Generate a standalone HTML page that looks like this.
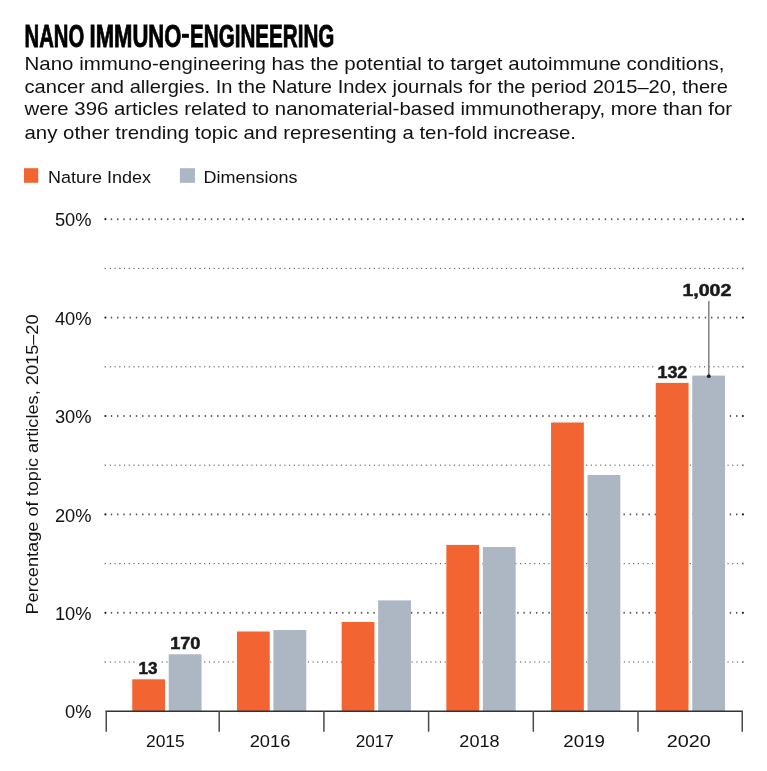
<!DOCTYPE html>
<html><head><meta charset="utf-8"><style>
html,body{margin:0;padding:0;background:#fff;width:767px;height:771px;overflow:hidden;}
svg{display:block;will-change:transform;}
text{font-family:"Liberation Sans", sans-serif;}
</style></head><body>
<svg width="767" height="771" viewBox="0 0 767 771" font-family='"Liberation Sans", sans-serif'><g fill="#505050"><circle cx="105.2" cy="662.00" r="0.9" fill="#999"/><rect x="109.85" y="661.45" width="1.1" height="1.1"/><rect x="114.57" y="661.45" width="1.1" height="1.1"/><rect x="119.28" y="661.45" width="1.1" height="1.1"/><rect x="124.00" y="661.45" width="1.1" height="1.1"/><rect x="128.71" y="661.45" width="1.1" height="1.1"/><rect x="133.42" y="661.45" width="1.1" height="1.1"/><rect x="138.14" y="661.45" width="1.1" height="1.1"/><rect x="142.85" y="661.45" width="1.1" height="1.1"/><rect x="147.57" y="661.45" width="1.1" height="1.1"/><rect x="152.28" y="661.45" width="1.1" height="1.1"/><rect x="157.00" y="661.45" width="1.1" height="1.1"/><rect x="161.71" y="661.45" width="1.1" height="1.1"/><rect x="166.43" y="661.45" width="1.1" height="1.1"/><rect x="171.14" y="661.45" width="1.1" height="1.1"/><rect x="175.86" y="661.45" width="1.1" height="1.1"/><rect x="180.57" y="661.45" width="1.1" height="1.1"/><rect x="185.29" y="661.45" width="1.1" height="1.1"/><rect x="190.00" y="661.45" width="1.1" height="1.1"/><rect x="194.72" y="661.45" width="1.1" height="1.1"/><rect x="199.44" y="661.45" width="1.1" height="1.1"/><rect x="204.15" y="661.45" width="1.1" height="1.1"/><rect x="208.87" y="661.45" width="1.1" height="1.1"/><rect x="213.58" y="661.45" width="1.1" height="1.1"/><rect x="218.29" y="661.45" width="1.1" height="1.1"/><rect x="223.01" y="661.45" width="1.1" height="1.1"/><rect x="227.72" y="661.45" width="1.1" height="1.1"/><rect x="232.44" y="661.45" width="1.1" height="1.1"/><rect x="237.15" y="661.45" width="1.1" height="1.1"/><rect x="241.87" y="661.45" width="1.1" height="1.1"/><rect x="246.58" y="661.45" width="1.1" height="1.1"/><rect x="251.30" y="661.45" width="1.1" height="1.1"/><rect x="256.01" y="661.45" width="1.1" height="1.1"/><rect x="260.73" y="661.45" width="1.1" height="1.1"/><rect x="265.44" y="661.45" width="1.1" height="1.1"/><rect x="270.16" y="661.45" width="1.1" height="1.1"/><rect x="274.88" y="661.45" width="1.1" height="1.1"/><rect x="279.59" y="661.45" width="1.1" height="1.1"/><rect x="284.31" y="661.45" width="1.1" height="1.1"/><rect x="289.02" y="661.45" width="1.1" height="1.1"/><rect x="293.73" y="661.45" width="1.1" height="1.1"/><rect x="298.45" y="661.45" width="1.1" height="1.1"/><rect x="303.17" y="661.45" width="1.1" height="1.1"/><rect x="307.88" y="661.45" width="1.1" height="1.1"/><rect x="312.59" y="661.45" width="1.1" height="1.1"/><rect x="317.31" y="661.45" width="1.1" height="1.1"/><rect x="322.02" y="661.45" width="1.1" height="1.1"/><rect x="326.74" y="661.45" width="1.1" height="1.1"/><rect x="331.45" y="661.45" width="1.1" height="1.1"/><rect x="336.17" y="661.45" width="1.1" height="1.1"/><rect x="340.88" y="661.45" width="1.1" height="1.1"/><rect x="345.60" y="661.45" width="1.1" height="1.1"/><rect x="350.31" y="661.45" width="1.1" height="1.1"/><rect x="355.03" y="661.45" width="1.1" height="1.1"/><rect x="359.74" y="661.45" width="1.1" height="1.1"/><rect x="364.46" y="661.45" width="1.1" height="1.1"/><rect x="369.18" y="661.45" width="1.1" height="1.1"/><rect x="373.89" y="661.45" width="1.1" height="1.1"/><rect x="378.60" y="661.45" width="1.1" height="1.1"/><rect x="383.32" y="661.45" width="1.1" height="1.1"/><rect x="388.04" y="661.45" width="1.1" height="1.1"/><rect x="392.75" y="661.45" width="1.1" height="1.1"/><rect x="397.46" y="661.45" width="1.1" height="1.1"/><rect x="402.18" y="661.45" width="1.1" height="1.1"/><rect x="406.90" y="661.45" width="1.1" height="1.1"/><rect x="411.61" y="661.45" width="1.1" height="1.1"/><rect x="416.32" y="661.45" width="1.1" height="1.1"/><rect x="421.04" y="661.45" width="1.1" height="1.1"/><rect x="425.75" y="661.45" width="1.1" height="1.1"/><rect x="430.47" y="661.45" width="1.1" height="1.1"/><rect x="435.19" y="661.45" width="1.1" height="1.1"/><rect x="439.90" y="661.45" width="1.1" height="1.1"/><rect x="444.61" y="661.45" width="1.1" height="1.1"/><rect x="449.33" y="661.45" width="1.1" height="1.1"/><rect x="454.05" y="661.45" width="1.1" height="1.1"/><rect x="458.76" y="661.45" width="1.1" height="1.1"/><rect x="463.47" y="661.45" width="1.1" height="1.1"/><rect x="468.19" y="661.45" width="1.1" height="1.1"/><rect x="472.91" y="661.45" width="1.1" height="1.1"/><rect x="477.62" y="661.45" width="1.1" height="1.1"/><rect x="482.33" y="661.45" width="1.1" height="1.1"/><rect x="487.05" y="661.45" width="1.1" height="1.1"/><rect x="491.76" y="661.45" width="1.1" height="1.1"/><rect x="496.48" y="661.45" width="1.1" height="1.1"/><rect x="501.19" y="661.45" width="1.1" height="1.1"/><rect x="505.91" y="661.45" width="1.1" height="1.1"/><rect x="510.62" y="661.45" width="1.1" height="1.1"/><rect x="515.34" y="661.45" width="1.1" height="1.1"/><rect x="520.06" y="661.45" width="1.1" height="1.1"/><rect x="524.77" y="661.45" width="1.1" height="1.1"/><rect x="529.49" y="661.45" width="1.1" height="1.1"/><rect x="534.20" y="661.45" width="1.1" height="1.1"/><rect x="538.92" y="661.45" width="1.1" height="1.1"/><rect x="543.63" y="661.45" width="1.1" height="1.1"/><rect x="548.35" y="661.45" width="1.1" height="1.1"/><rect x="553.06" y="661.45" width="1.1" height="1.1"/><rect x="557.78" y="661.45" width="1.1" height="1.1"/><rect x="562.49" y="661.45" width="1.1" height="1.1"/><rect x="567.21" y="661.45" width="1.1" height="1.1"/><rect x="571.92" y="661.45" width="1.1" height="1.1"/><rect x="576.63" y="661.45" width="1.1" height="1.1"/><rect x="581.35" y="661.45" width="1.1" height="1.1"/><rect x="586.07" y="661.45" width="1.1" height="1.1"/><rect x="590.78" y="661.45" width="1.1" height="1.1"/><rect x="595.50" y="661.45" width="1.1" height="1.1"/><rect x="600.21" y="661.45" width="1.1" height="1.1"/><rect x="604.93" y="661.45" width="1.1" height="1.1"/><rect x="609.64" y="661.45" width="1.1" height="1.1"/><rect x="614.36" y="661.45" width="1.1" height="1.1"/><rect x="619.07" y="661.45" width="1.1" height="1.1"/><rect x="623.78" y="661.45" width="1.1" height="1.1"/><rect x="628.50" y="661.45" width="1.1" height="1.1"/><rect x="633.22" y="661.45" width="1.1" height="1.1"/><rect x="637.93" y="661.45" width="1.1" height="1.1"/><rect x="642.64" y="661.45" width="1.1" height="1.1"/><rect x="647.36" y="661.45" width="1.1" height="1.1"/><rect x="652.08" y="661.45" width="1.1" height="1.1"/><rect x="656.79" y="661.45" width="1.1" height="1.1"/><rect x="661.50" y="661.45" width="1.1" height="1.1"/><rect x="666.22" y="661.45" width="1.1" height="1.1"/><rect x="670.94" y="661.45" width="1.1" height="1.1"/><rect x="675.65" y="661.45" width="1.1" height="1.1"/><rect x="680.37" y="661.45" width="1.1" height="1.1"/><rect x="685.08" y="661.45" width="1.1" height="1.1"/><rect x="689.79" y="661.45" width="1.1" height="1.1"/><rect x="694.51" y="661.45" width="1.1" height="1.1"/><rect x="699.23" y="661.45" width="1.1" height="1.1"/><rect x="703.94" y="661.45" width="1.1" height="1.1"/><rect x="708.65" y="661.45" width="1.1" height="1.1"/><rect x="713.37" y="661.45" width="1.1" height="1.1"/><rect x="718.09" y="661.45" width="1.1" height="1.1"/><rect x="722.80" y="661.45" width="1.1" height="1.1"/><rect x="727.51" y="661.45" width="1.1" height="1.1"/><rect x="732.23" y="661.45" width="1.1" height="1.1"/><rect x="736.95" y="661.45" width="1.1" height="1.1"/><circle cx="742.8" cy="662.00" r="1.0" fill="#777"/></g>
<g fill="#525252"><circle cx="105.4" cy="612.80" r="1.1" fill="#222"/><rect x="110.80" y="611.90" width="1.4" height="1.8"/><rect x="117.05" y="611.90" width="1.4" height="1.8"/><rect x="123.30" y="611.90" width="1.4" height="1.8"/><rect x="129.56" y="611.90" width="1.4" height="1.8"/><rect x="135.81" y="611.90" width="1.4" height="1.8"/><rect x="142.06" y="611.90" width="1.4" height="1.8"/><rect x="148.31" y="611.90" width="1.4" height="1.8"/><rect x="154.56" y="611.90" width="1.4" height="1.8"/><rect x="160.82" y="611.90" width="1.4" height="1.8"/><rect x="167.07" y="611.90" width="1.4" height="1.8"/><rect x="173.32" y="611.90" width="1.4" height="1.8"/><rect x="179.57" y="611.90" width="1.4" height="1.8"/><rect x="185.82" y="611.90" width="1.4" height="1.8"/><rect x="192.08" y="611.90" width="1.4" height="1.8"/><rect x="198.33" y="611.90" width="1.4" height="1.8"/><rect x="204.58" y="611.90" width="1.4" height="1.8"/><rect x="210.83" y="611.90" width="1.4" height="1.8"/><rect x="217.08" y="611.90" width="1.4" height="1.8"/><rect x="223.34" y="611.90" width="1.4" height="1.8"/><rect x="229.59" y="611.90" width="1.4" height="1.8"/><rect x="235.84" y="611.90" width="1.4" height="1.8"/><rect x="242.09" y="611.90" width="1.4" height="1.8"/><rect x="248.34" y="611.90" width="1.4" height="1.8"/><rect x="254.60" y="611.90" width="1.4" height="1.8"/><rect x="260.85" y="611.90" width="1.4" height="1.8"/><rect x="267.10" y="611.90" width="1.4" height="1.8"/><rect x="273.35" y="611.90" width="1.4" height="1.8"/><rect x="279.60" y="611.90" width="1.4" height="1.8"/><rect x="285.86" y="611.90" width="1.4" height="1.8"/><rect x="292.11" y="611.90" width="1.4" height="1.8"/><rect x="298.36" y="611.90" width="1.4" height="1.8"/><rect x="304.61" y="611.90" width="1.4" height="1.8"/><rect x="310.86" y="611.90" width="1.4" height="1.8"/><rect x="317.12" y="611.90" width="1.4" height="1.8"/><rect x="323.37" y="611.90" width="1.4" height="1.8"/><rect x="329.62" y="611.90" width="1.4" height="1.8"/><rect x="335.87" y="611.90" width="1.4" height="1.8"/><rect x="342.12" y="611.90" width="1.4" height="1.8"/><rect x="348.38" y="611.90" width="1.4" height="1.8"/><rect x="354.63" y="611.90" width="1.4" height="1.8"/><rect x="360.88" y="611.90" width="1.4" height="1.8"/><rect x="367.13" y="611.90" width="1.4" height="1.8"/><rect x="373.38" y="611.90" width="1.4" height="1.8"/><rect x="379.64" y="611.90" width="1.4" height="1.8"/><rect x="385.89" y="611.90" width="1.4" height="1.8"/><rect x="392.14" y="611.90" width="1.4" height="1.8"/><rect x="398.39" y="611.90" width="1.4" height="1.8"/><rect x="404.64" y="611.90" width="1.4" height="1.8"/><rect x="410.90" y="611.90" width="1.4" height="1.8"/><rect x="417.15" y="611.90" width="1.4" height="1.8"/><rect x="423.40" y="611.90" width="1.4" height="1.8"/><rect x="429.65" y="611.90" width="1.4" height="1.8"/><rect x="435.90" y="611.90" width="1.4" height="1.8"/><rect x="442.16" y="611.90" width="1.4" height="1.8"/><rect x="448.41" y="611.90" width="1.4" height="1.8"/><rect x="454.66" y="611.90" width="1.4" height="1.8"/><rect x="460.91" y="611.90" width="1.4" height="1.8"/><rect x="467.16" y="611.90" width="1.4" height="1.8"/><rect x="473.42" y="611.90" width="1.4" height="1.8"/><rect x="479.67" y="611.90" width="1.4" height="1.8"/><rect x="485.92" y="611.90" width="1.4" height="1.8"/><rect x="492.17" y="611.90" width="1.4" height="1.8"/><rect x="498.42" y="611.90" width="1.4" height="1.8"/><rect x="504.68" y="611.90" width="1.4" height="1.8"/><rect x="510.93" y="611.90" width="1.4" height="1.8"/><rect x="517.18" y="611.90" width="1.4" height="1.8"/><rect x="523.43" y="611.90" width="1.4" height="1.8"/><rect x="529.68" y="611.90" width="1.4" height="1.8"/><rect x="535.94" y="611.90" width="1.4" height="1.8"/><rect x="542.19" y="611.90" width="1.4" height="1.8"/><rect x="548.44" y="611.90" width="1.4" height="1.8"/><rect x="554.69" y="611.90" width="1.4" height="1.8"/><rect x="560.94" y="611.90" width="1.4" height="1.8"/><rect x="567.20" y="611.90" width="1.4" height="1.8"/><rect x="573.45" y="611.90" width="1.4" height="1.8"/><rect x="579.70" y="611.90" width="1.4" height="1.8"/><rect x="585.95" y="611.90" width="1.4" height="1.8"/><rect x="592.20" y="611.90" width="1.4" height="1.8"/><rect x="598.46" y="611.90" width="1.4" height="1.8"/><rect x="604.71" y="611.90" width="1.4" height="1.8"/><rect x="610.96" y="611.90" width="1.4" height="1.8"/><rect x="617.21" y="611.90" width="1.4" height="1.8"/><rect x="623.46" y="611.90" width="1.4" height="1.8"/><rect x="629.72" y="611.90" width="1.4" height="1.8"/><rect x="635.97" y="611.90" width="1.4" height="1.8"/><rect x="642.22" y="611.90" width="1.4" height="1.8"/><rect x="648.47" y="611.90" width="1.4" height="1.8"/><rect x="654.72" y="611.90" width="1.4" height="1.8"/><rect x="660.98" y="611.90" width="1.4" height="1.8"/><rect x="667.23" y="611.90" width="1.4" height="1.8"/><rect x="673.48" y="611.90" width="1.4" height="1.8"/><rect x="679.73" y="611.90" width="1.4" height="1.8"/><rect x="685.98" y="611.90" width="1.4" height="1.8"/><rect x="692.24" y="611.90" width="1.4" height="1.8"/><rect x="698.49" y="611.90" width="1.4" height="1.8"/><rect x="704.74" y="611.90" width="1.4" height="1.8"/><rect x="710.99" y="611.90" width="1.4" height="1.8"/><rect x="717.24" y="611.90" width="1.4" height="1.8"/><rect x="723.50" y="611.90" width="1.4" height="1.8"/><rect x="729.75" y="611.90" width="1.4" height="1.8"/><rect x="736.00" y="611.90" width="1.4" height="1.8"/><circle cx="742.9" cy="612.80" r="1.1" fill="#222"/></g>
<g fill="#505050"><circle cx="105.2" cy="563.60" r="0.9" fill="#999"/><rect x="109.85" y="563.05" width="1.1" height="1.1"/><rect x="114.57" y="563.05" width="1.1" height="1.1"/><rect x="119.28" y="563.05" width="1.1" height="1.1"/><rect x="124.00" y="563.05" width="1.1" height="1.1"/><rect x="128.71" y="563.05" width="1.1" height="1.1"/><rect x="133.42" y="563.05" width="1.1" height="1.1"/><rect x="138.14" y="563.05" width="1.1" height="1.1"/><rect x="142.85" y="563.05" width="1.1" height="1.1"/><rect x="147.57" y="563.05" width="1.1" height="1.1"/><rect x="152.28" y="563.05" width="1.1" height="1.1"/><rect x="157.00" y="563.05" width="1.1" height="1.1"/><rect x="161.71" y="563.05" width="1.1" height="1.1"/><rect x="166.43" y="563.05" width="1.1" height="1.1"/><rect x="171.14" y="563.05" width="1.1" height="1.1"/><rect x="175.86" y="563.05" width="1.1" height="1.1"/><rect x="180.57" y="563.05" width="1.1" height="1.1"/><rect x="185.29" y="563.05" width="1.1" height="1.1"/><rect x="190.00" y="563.05" width="1.1" height="1.1"/><rect x="194.72" y="563.05" width="1.1" height="1.1"/><rect x="199.44" y="563.05" width="1.1" height="1.1"/><rect x="204.15" y="563.05" width="1.1" height="1.1"/><rect x="208.87" y="563.05" width="1.1" height="1.1"/><rect x="213.58" y="563.05" width="1.1" height="1.1"/><rect x="218.29" y="563.05" width="1.1" height="1.1"/><rect x="223.01" y="563.05" width="1.1" height="1.1"/><rect x="227.72" y="563.05" width="1.1" height="1.1"/><rect x="232.44" y="563.05" width="1.1" height="1.1"/><rect x="237.15" y="563.05" width="1.1" height="1.1"/><rect x="241.87" y="563.05" width="1.1" height="1.1"/><rect x="246.58" y="563.05" width="1.1" height="1.1"/><rect x="251.30" y="563.05" width="1.1" height="1.1"/><rect x="256.01" y="563.05" width="1.1" height="1.1"/><rect x="260.73" y="563.05" width="1.1" height="1.1"/><rect x="265.44" y="563.05" width="1.1" height="1.1"/><rect x="270.16" y="563.05" width="1.1" height="1.1"/><rect x="274.88" y="563.05" width="1.1" height="1.1"/><rect x="279.59" y="563.05" width="1.1" height="1.1"/><rect x="284.31" y="563.05" width="1.1" height="1.1"/><rect x="289.02" y="563.05" width="1.1" height="1.1"/><rect x="293.73" y="563.05" width="1.1" height="1.1"/><rect x="298.45" y="563.05" width="1.1" height="1.1"/><rect x="303.17" y="563.05" width="1.1" height="1.1"/><rect x="307.88" y="563.05" width="1.1" height="1.1"/><rect x="312.59" y="563.05" width="1.1" height="1.1"/><rect x="317.31" y="563.05" width="1.1" height="1.1"/><rect x="322.02" y="563.05" width="1.1" height="1.1"/><rect x="326.74" y="563.05" width="1.1" height="1.1"/><rect x="331.45" y="563.05" width="1.1" height="1.1"/><rect x="336.17" y="563.05" width="1.1" height="1.1"/><rect x="340.88" y="563.05" width="1.1" height="1.1"/><rect x="345.60" y="563.05" width="1.1" height="1.1"/><rect x="350.31" y="563.05" width="1.1" height="1.1"/><rect x="355.03" y="563.05" width="1.1" height="1.1"/><rect x="359.74" y="563.05" width="1.1" height="1.1"/><rect x="364.46" y="563.05" width="1.1" height="1.1"/><rect x="369.18" y="563.05" width="1.1" height="1.1"/><rect x="373.89" y="563.05" width="1.1" height="1.1"/><rect x="378.60" y="563.05" width="1.1" height="1.1"/><rect x="383.32" y="563.05" width="1.1" height="1.1"/><rect x="388.04" y="563.05" width="1.1" height="1.1"/><rect x="392.75" y="563.05" width="1.1" height="1.1"/><rect x="397.46" y="563.05" width="1.1" height="1.1"/><rect x="402.18" y="563.05" width="1.1" height="1.1"/><rect x="406.90" y="563.05" width="1.1" height="1.1"/><rect x="411.61" y="563.05" width="1.1" height="1.1"/><rect x="416.32" y="563.05" width="1.1" height="1.1"/><rect x="421.04" y="563.05" width="1.1" height="1.1"/><rect x="425.75" y="563.05" width="1.1" height="1.1"/><rect x="430.47" y="563.05" width="1.1" height="1.1"/><rect x="435.19" y="563.05" width="1.1" height="1.1"/><rect x="439.90" y="563.05" width="1.1" height="1.1"/><rect x="444.61" y="563.05" width="1.1" height="1.1"/><rect x="449.33" y="563.05" width="1.1" height="1.1"/><rect x="454.05" y="563.05" width="1.1" height="1.1"/><rect x="458.76" y="563.05" width="1.1" height="1.1"/><rect x="463.47" y="563.05" width="1.1" height="1.1"/><rect x="468.19" y="563.05" width="1.1" height="1.1"/><rect x="472.91" y="563.05" width="1.1" height="1.1"/><rect x="477.62" y="563.05" width="1.1" height="1.1"/><rect x="482.33" y="563.05" width="1.1" height="1.1"/><rect x="487.05" y="563.05" width="1.1" height="1.1"/><rect x="491.76" y="563.05" width="1.1" height="1.1"/><rect x="496.48" y="563.05" width="1.1" height="1.1"/><rect x="501.19" y="563.05" width="1.1" height="1.1"/><rect x="505.91" y="563.05" width="1.1" height="1.1"/><rect x="510.62" y="563.05" width="1.1" height="1.1"/><rect x="515.34" y="563.05" width="1.1" height="1.1"/><rect x="520.06" y="563.05" width="1.1" height="1.1"/><rect x="524.77" y="563.05" width="1.1" height="1.1"/><rect x="529.49" y="563.05" width="1.1" height="1.1"/><rect x="534.20" y="563.05" width="1.1" height="1.1"/><rect x="538.92" y="563.05" width="1.1" height="1.1"/><rect x="543.63" y="563.05" width="1.1" height="1.1"/><rect x="548.35" y="563.05" width="1.1" height="1.1"/><rect x="553.06" y="563.05" width="1.1" height="1.1"/><rect x="557.78" y="563.05" width="1.1" height="1.1"/><rect x="562.49" y="563.05" width="1.1" height="1.1"/><rect x="567.21" y="563.05" width="1.1" height="1.1"/><rect x="571.92" y="563.05" width="1.1" height="1.1"/><rect x="576.63" y="563.05" width="1.1" height="1.1"/><rect x="581.35" y="563.05" width="1.1" height="1.1"/><rect x="586.07" y="563.05" width="1.1" height="1.1"/><rect x="590.78" y="563.05" width="1.1" height="1.1"/><rect x="595.50" y="563.05" width="1.1" height="1.1"/><rect x="600.21" y="563.05" width="1.1" height="1.1"/><rect x="604.93" y="563.05" width="1.1" height="1.1"/><rect x="609.64" y="563.05" width="1.1" height="1.1"/><rect x="614.36" y="563.05" width="1.1" height="1.1"/><rect x="619.07" y="563.05" width="1.1" height="1.1"/><rect x="623.78" y="563.05" width="1.1" height="1.1"/><rect x="628.50" y="563.05" width="1.1" height="1.1"/><rect x="633.22" y="563.05" width="1.1" height="1.1"/><rect x="637.93" y="563.05" width="1.1" height="1.1"/><rect x="642.64" y="563.05" width="1.1" height="1.1"/><rect x="647.36" y="563.05" width="1.1" height="1.1"/><rect x="652.08" y="563.05" width="1.1" height="1.1"/><rect x="656.79" y="563.05" width="1.1" height="1.1"/><rect x="661.50" y="563.05" width="1.1" height="1.1"/><rect x="666.22" y="563.05" width="1.1" height="1.1"/><rect x="670.94" y="563.05" width="1.1" height="1.1"/><rect x="675.65" y="563.05" width="1.1" height="1.1"/><rect x="680.37" y="563.05" width="1.1" height="1.1"/><rect x="685.08" y="563.05" width="1.1" height="1.1"/><rect x="689.79" y="563.05" width="1.1" height="1.1"/><rect x="694.51" y="563.05" width="1.1" height="1.1"/><rect x="699.23" y="563.05" width="1.1" height="1.1"/><rect x="703.94" y="563.05" width="1.1" height="1.1"/><rect x="708.65" y="563.05" width="1.1" height="1.1"/><rect x="713.37" y="563.05" width="1.1" height="1.1"/><rect x="718.09" y="563.05" width="1.1" height="1.1"/><rect x="722.80" y="563.05" width="1.1" height="1.1"/><rect x="727.51" y="563.05" width="1.1" height="1.1"/><rect x="732.23" y="563.05" width="1.1" height="1.1"/><rect x="736.95" y="563.05" width="1.1" height="1.1"/><circle cx="742.8" cy="563.60" r="1.0" fill="#777"/></g>
<g fill="#525252"><circle cx="105.4" cy="514.40" r="1.1" fill="#222"/><rect x="110.80" y="513.50" width="1.4" height="1.8"/><rect x="117.05" y="513.50" width="1.4" height="1.8"/><rect x="123.30" y="513.50" width="1.4" height="1.8"/><rect x="129.56" y="513.50" width="1.4" height="1.8"/><rect x="135.81" y="513.50" width="1.4" height="1.8"/><rect x="142.06" y="513.50" width="1.4" height="1.8"/><rect x="148.31" y="513.50" width="1.4" height="1.8"/><rect x="154.56" y="513.50" width="1.4" height="1.8"/><rect x="160.82" y="513.50" width="1.4" height="1.8"/><rect x="167.07" y="513.50" width="1.4" height="1.8"/><rect x="173.32" y="513.50" width="1.4" height="1.8"/><rect x="179.57" y="513.50" width="1.4" height="1.8"/><rect x="185.82" y="513.50" width="1.4" height="1.8"/><rect x="192.08" y="513.50" width="1.4" height="1.8"/><rect x="198.33" y="513.50" width="1.4" height="1.8"/><rect x="204.58" y="513.50" width="1.4" height="1.8"/><rect x="210.83" y="513.50" width="1.4" height="1.8"/><rect x="217.08" y="513.50" width="1.4" height="1.8"/><rect x="223.34" y="513.50" width="1.4" height="1.8"/><rect x="229.59" y="513.50" width="1.4" height="1.8"/><rect x="235.84" y="513.50" width="1.4" height="1.8"/><rect x="242.09" y="513.50" width="1.4" height="1.8"/><rect x="248.34" y="513.50" width="1.4" height="1.8"/><rect x="254.60" y="513.50" width="1.4" height="1.8"/><rect x="260.85" y="513.50" width="1.4" height="1.8"/><rect x="267.10" y="513.50" width="1.4" height="1.8"/><rect x="273.35" y="513.50" width="1.4" height="1.8"/><rect x="279.60" y="513.50" width="1.4" height="1.8"/><rect x="285.86" y="513.50" width="1.4" height="1.8"/><rect x="292.11" y="513.50" width="1.4" height="1.8"/><rect x="298.36" y="513.50" width="1.4" height="1.8"/><rect x="304.61" y="513.50" width="1.4" height="1.8"/><rect x="310.86" y="513.50" width="1.4" height="1.8"/><rect x="317.12" y="513.50" width="1.4" height="1.8"/><rect x="323.37" y="513.50" width="1.4" height="1.8"/><rect x="329.62" y="513.50" width="1.4" height="1.8"/><rect x="335.87" y="513.50" width="1.4" height="1.8"/><rect x="342.12" y="513.50" width="1.4" height="1.8"/><rect x="348.38" y="513.50" width="1.4" height="1.8"/><rect x="354.63" y="513.50" width="1.4" height="1.8"/><rect x="360.88" y="513.50" width="1.4" height="1.8"/><rect x="367.13" y="513.50" width="1.4" height="1.8"/><rect x="373.38" y="513.50" width="1.4" height="1.8"/><rect x="379.64" y="513.50" width="1.4" height="1.8"/><rect x="385.89" y="513.50" width="1.4" height="1.8"/><rect x="392.14" y="513.50" width="1.4" height="1.8"/><rect x="398.39" y="513.50" width="1.4" height="1.8"/><rect x="404.64" y="513.50" width="1.4" height="1.8"/><rect x="410.90" y="513.50" width="1.4" height="1.8"/><rect x="417.15" y="513.50" width="1.4" height="1.8"/><rect x="423.40" y="513.50" width="1.4" height="1.8"/><rect x="429.65" y="513.50" width="1.4" height="1.8"/><rect x="435.90" y="513.50" width="1.4" height="1.8"/><rect x="442.16" y="513.50" width="1.4" height="1.8"/><rect x="448.41" y="513.50" width="1.4" height="1.8"/><rect x="454.66" y="513.50" width="1.4" height="1.8"/><rect x="460.91" y="513.50" width="1.4" height="1.8"/><rect x="467.16" y="513.50" width="1.4" height="1.8"/><rect x="473.42" y="513.50" width="1.4" height="1.8"/><rect x="479.67" y="513.50" width="1.4" height="1.8"/><rect x="485.92" y="513.50" width="1.4" height="1.8"/><rect x="492.17" y="513.50" width="1.4" height="1.8"/><rect x="498.42" y="513.50" width="1.4" height="1.8"/><rect x="504.68" y="513.50" width="1.4" height="1.8"/><rect x="510.93" y="513.50" width="1.4" height="1.8"/><rect x="517.18" y="513.50" width="1.4" height="1.8"/><rect x="523.43" y="513.50" width="1.4" height="1.8"/><rect x="529.68" y="513.50" width="1.4" height="1.8"/><rect x="535.94" y="513.50" width="1.4" height="1.8"/><rect x="542.19" y="513.50" width="1.4" height="1.8"/><rect x="548.44" y="513.50" width="1.4" height="1.8"/><rect x="554.69" y="513.50" width="1.4" height="1.8"/><rect x="560.94" y="513.50" width="1.4" height="1.8"/><rect x="567.20" y="513.50" width="1.4" height="1.8"/><rect x="573.45" y="513.50" width="1.4" height="1.8"/><rect x="579.70" y="513.50" width="1.4" height="1.8"/><rect x="585.95" y="513.50" width="1.4" height="1.8"/><rect x="592.20" y="513.50" width="1.4" height="1.8"/><rect x="598.46" y="513.50" width="1.4" height="1.8"/><rect x="604.71" y="513.50" width="1.4" height="1.8"/><rect x="610.96" y="513.50" width="1.4" height="1.8"/><rect x="617.21" y="513.50" width="1.4" height="1.8"/><rect x="623.46" y="513.50" width="1.4" height="1.8"/><rect x="629.72" y="513.50" width="1.4" height="1.8"/><rect x="635.97" y="513.50" width="1.4" height="1.8"/><rect x="642.22" y="513.50" width="1.4" height="1.8"/><rect x="648.47" y="513.50" width="1.4" height="1.8"/><rect x="654.72" y="513.50" width="1.4" height="1.8"/><rect x="660.98" y="513.50" width="1.4" height="1.8"/><rect x="667.23" y="513.50" width="1.4" height="1.8"/><rect x="673.48" y="513.50" width="1.4" height="1.8"/><rect x="679.73" y="513.50" width="1.4" height="1.8"/><rect x="685.98" y="513.50" width="1.4" height="1.8"/><rect x="692.24" y="513.50" width="1.4" height="1.8"/><rect x="698.49" y="513.50" width="1.4" height="1.8"/><rect x="704.74" y="513.50" width="1.4" height="1.8"/><rect x="710.99" y="513.50" width="1.4" height="1.8"/><rect x="717.24" y="513.50" width="1.4" height="1.8"/><rect x="723.50" y="513.50" width="1.4" height="1.8"/><rect x="729.75" y="513.50" width="1.4" height="1.8"/><rect x="736.00" y="513.50" width="1.4" height="1.8"/><circle cx="742.9" cy="514.40" r="1.1" fill="#222"/></g>
<g fill="#505050"><circle cx="105.2" cy="465.20" r="0.9" fill="#999"/><rect x="109.85" y="464.65" width="1.1" height="1.1"/><rect x="114.57" y="464.65" width="1.1" height="1.1"/><rect x="119.28" y="464.65" width="1.1" height="1.1"/><rect x="124.00" y="464.65" width="1.1" height="1.1"/><rect x="128.71" y="464.65" width="1.1" height="1.1"/><rect x="133.42" y="464.65" width="1.1" height="1.1"/><rect x="138.14" y="464.65" width="1.1" height="1.1"/><rect x="142.85" y="464.65" width="1.1" height="1.1"/><rect x="147.57" y="464.65" width="1.1" height="1.1"/><rect x="152.28" y="464.65" width="1.1" height="1.1"/><rect x="157.00" y="464.65" width="1.1" height="1.1"/><rect x="161.71" y="464.65" width="1.1" height="1.1"/><rect x="166.43" y="464.65" width="1.1" height="1.1"/><rect x="171.14" y="464.65" width="1.1" height="1.1"/><rect x="175.86" y="464.65" width="1.1" height="1.1"/><rect x="180.57" y="464.65" width="1.1" height="1.1"/><rect x="185.29" y="464.65" width="1.1" height="1.1"/><rect x="190.00" y="464.65" width="1.1" height="1.1"/><rect x="194.72" y="464.65" width="1.1" height="1.1"/><rect x="199.44" y="464.65" width="1.1" height="1.1"/><rect x="204.15" y="464.65" width="1.1" height="1.1"/><rect x="208.87" y="464.65" width="1.1" height="1.1"/><rect x="213.58" y="464.65" width="1.1" height="1.1"/><rect x="218.29" y="464.65" width="1.1" height="1.1"/><rect x="223.01" y="464.65" width="1.1" height="1.1"/><rect x="227.72" y="464.65" width="1.1" height="1.1"/><rect x="232.44" y="464.65" width="1.1" height="1.1"/><rect x="237.15" y="464.65" width="1.1" height="1.1"/><rect x="241.87" y="464.65" width="1.1" height="1.1"/><rect x="246.58" y="464.65" width="1.1" height="1.1"/><rect x="251.30" y="464.65" width="1.1" height="1.1"/><rect x="256.01" y="464.65" width="1.1" height="1.1"/><rect x="260.73" y="464.65" width="1.1" height="1.1"/><rect x="265.44" y="464.65" width="1.1" height="1.1"/><rect x="270.16" y="464.65" width="1.1" height="1.1"/><rect x="274.88" y="464.65" width="1.1" height="1.1"/><rect x="279.59" y="464.65" width="1.1" height="1.1"/><rect x="284.31" y="464.65" width="1.1" height="1.1"/><rect x="289.02" y="464.65" width="1.1" height="1.1"/><rect x="293.73" y="464.65" width="1.1" height="1.1"/><rect x="298.45" y="464.65" width="1.1" height="1.1"/><rect x="303.17" y="464.65" width="1.1" height="1.1"/><rect x="307.88" y="464.65" width="1.1" height="1.1"/><rect x="312.59" y="464.65" width="1.1" height="1.1"/><rect x="317.31" y="464.65" width="1.1" height="1.1"/><rect x="322.02" y="464.65" width="1.1" height="1.1"/><rect x="326.74" y="464.65" width="1.1" height="1.1"/><rect x="331.45" y="464.65" width="1.1" height="1.1"/><rect x="336.17" y="464.65" width="1.1" height="1.1"/><rect x="340.88" y="464.65" width="1.1" height="1.1"/><rect x="345.60" y="464.65" width="1.1" height="1.1"/><rect x="350.31" y="464.65" width="1.1" height="1.1"/><rect x="355.03" y="464.65" width="1.1" height="1.1"/><rect x="359.74" y="464.65" width="1.1" height="1.1"/><rect x="364.46" y="464.65" width="1.1" height="1.1"/><rect x="369.18" y="464.65" width="1.1" height="1.1"/><rect x="373.89" y="464.65" width="1.1" height="1.1"/><rect x="378.60" y="464.65" width="1.1" height="1.1"/><rect x="383.32" y="464.65" width="1.1" height="1.1"/><rect x="388.04" y="464.65" width="1.1" height="1.1"/><rect x="392.75" y="464.65" width="1.1" height="1.1"/><rect x="397.46" y="464.65" width="1.1" height="1.1"/><rect x="402.18" y="464.65" width="1.1" height="1.1"/><rect x="406.90" y="464.65" width="1.1" height="1.1"/><rect x="411.61" y="464.65" width="1.1" height="1.1"/><rect x="416.32" y="464.65" width="1.1" height="1.1"/><rect x="421.04" y="464.65" width="1.1" height="1.1"/><rect x="425.75" y="464.65" width="1.1" height="1.1"/><rect x="430.47" y="464.65" width="1.1" height="1.1"/><rect x="435.19" y="464.65" width="1.1" height="1.1"/><rect x="439.90" y="464.65" width="1.1" height="1.1"/><rect x="444.61" y="464.65" width="1.1" height="1.1"/><rect x="449.33" y="464.65" width="1.1" height="1.1"/><rect x="454.05" y="464.65" width="1.1" height="1.1"/><rect x="458.76" y="464.65" width="1.1" height="1.1"/><rect x="463.47" y="464.65" width="1.1" height="1.1"/><rect x="468.19" y="464.65" width="1.1" height="1.1"/><rect x="472.91" y="464.65" width="1.1" height="1.1"/><rect x="477.62" y="464.65" width="1.1" height="1.1"/><rect x="482.33" y="464.65" width="1.1" height="1.1"/><rect x="487.05" y="464.65" width="1.1" height="1.1"/><rect x="491.76" y="464.65" width="1.1" height="1.1"/><rect x="496.48" y="464.65" width="1.1" height="1.1"/><rect x="501.19" y="464.65" width="1.1" height="1.1"/><rect x="505.91" y="464.65" width="1.1" height="1.1"/><rect x="510.62" y="464.65" width="1.1" height="1.1"/><rect x="515.34" y="464.65" width="1.1" height="1.1"/><rect x="520.06" y="464.65" width="1.1" height="1.1"/><rect x="524.77" y="464.65" width="1.1" height="1.1"/><rect x="529.49" y="464.65" width="1.1" height="1.1"/><rect x="534.20" y="464.65" width="1.1" height="1.1"/><rect x="538.92" y="464.65" width="1.1" height="1.1"/><rect x="543.63" y="464.65" width="1.1" height="1.1"/><rect x="548.35" y="464.65" width="1.1" height="1.1"/><rect x="553.06" y="464.65" width="1.1" height="1.1"/><rect x="557.78" y="464.65" width="1.1" height="1.1"/><rect x="562.49" y="464.65" width="1.1" height="1.1"/><rect x="567.21" y="464.65" width="1.1" height="1.1"/><rect x="571.92" y="464.65" width="1.1" height="1.1"/><rect x="576.63" y="464.65" width="1.1" height="1.1"/><rect x="581.35" y="464.65" width="1.1" height="1.1"/><rect x="586.07" y="464.65" width="1.1" height="1.1"/><rect x="590.78" y="464.65" width="1.1" height="1.1"/><rect x="595.50" y="464.65" width="1.1" height="1.1"/><rect x="600.21" y="464.65" width="1.1" height="1.1"/><rect x="604.93" y="464.65" width="1.1" height="1.1"/><rect x="609.64" y="464.65" width="1.1" height="1.1"/><rect x="614.36" y="464.65" width="1.1" height="1.1"/><rect x="619.07" y="464.65" width="1.1" height="1.1"/><rect x="623.78" y="464.65" width="1.1" height="1.1"/><rect x="628.50" y="464.65" width="1.1" height="1.1"/><rect x="633.22" y="464.65" width="1.1" height="1.1"/><rect x="637.93" y="464.65" width="1.1" height="1.1"/><rect x="642.64" y="464.65" width="1.1" height="1.1"/><rect x="647.36" y="464.65" width="1.1" height="1.1"/><rect x="652.08" y="464.65" width="1.1" height="1.1"/><rect x="656.79" y="464.65" width="1.1" height="1.1"/><rect x="661.50" y="464.65" width="1.1" height="1.1"/><rect x="666.22" y="464.65" width="1.1" height="1.1"/><rect x="670.94" y="464.65" width="1.1" height="1.1"/><rect x="675.65" y="464.65" width="1.1" height="1.1"/><rect x="680.37" y="464.65" width="1.1" height="1.1"/><rect x="685.08" y="464.65" width="1.1" height="1.1"/><rect x="689.79" y="464.65" width="1.1" height="1.1"/><rect x="694.51" y="464.65" width="1.1" height="1.1"/><rect x="699.23" y="464.65" width="1.1" height="1.1"/><rect x="703.94" y="464.65" width="1.1" height="1.1"/><rect x="708.65" y="464.65" width="1.1" height="1.1"/><rect x="713.37" y="464.65" width="1.1" height="1.1"/><rect x="718.09" y="464.65" width="1.1" height="1.1"/><rect x="722.80" y="464.65" width="1.1" height="1.1"/><rect x="727.51" y="464.65" width="1.1" height="1.1"/><rect x="732.23" y="464.65" width="1.1" height="1.1"/><rect x="736.95" y="464.65" width="1.1" height="1.1"/><circle cx="742.8" cy="465.20" r="1.0" fill="#777"/></g>
<g fill="#525252"><circle cx="105.4" cy="416.00" r="1.1" fill="#222"/><rect x="110.80" y="415.10" width="1.4" height="1.8"/><rect x="117.05" y="415.10" width="1.4" height="1.8"/><rect x="123.30" y="415.10" width="1.4" height="1.8"/><rect x="129.56" y="415.10" width="1.4" height="1.8"/><rect x="135.81" y="415.10" width="1.4" height="1.8"/><rect x="142.06" y="415.10" width="1.4" height="1.8"/><rect x="148.31" y="415.10" width="1.4" height="1.8"/><rect x="154.56" y="415.10" width="1.4" height="1.8"/><rect x="160.82" y="415.10" width="1.4" height="1.8"/><rect x="167.07" y="415.10" width="1.4" height="1.8"/><rect x="173.32" y="415.10" width="1.4" height="1.8"/><rect x="179.57" y="415.10" width="1.4" height="1.8"/><rect x="185.82" y="415.10" width="1.4" height="1.8"/><rect x="192.08" y="415.10" width="1.4" height="1.8"/><rect x="198.33" y="415.10" width="1.4" height="1.8"/><rect x="204.58" y="415.10" width="1.4" height="1.8"/><rect x="210.83" y="415.10" width="1.4" height="1.8"/><rect x="217.08" y="415.10" width="1.4" height="1.8"/><rect x="223.34" y="415.10" width="1.4" height="1.8"/><rect x="229.59" y="415.10" width="1.4" height="1.8"/><rect x="235.84" y="415.10" width="1.4" height="1.8"/><rect x="242.09" y="415.10" width="1.4" height="1.8"/><rect x="248.34" y="415.10" width="1.4" height="1.8"/><rect x="254.60" y="415.10" width="1.4" height="1.8"/><rect x="260.85" y="415.10" width="1.4" height="1.8"/><rect x="267.10" y="415.10" width="1.4" height="1.8"/><rect x="273.35" y="415.10" width="1.4" height="1.8"/><rect x="279.60" y="415.10" width="1.4" height="1.8"/><rect x="285.86" y="415.10" width="1.4" height="1.8"/><rect x="292.11" y="415.10" width="1.4" height="1.8"/><rect x="298.36" y="415.10" width="1.4" height="1.8"/><rect x="304.61" y="415.10" width="1.4" height="1.8"/><rect x="310.86" y="415.10" width="1.4" height="1.8"/><rect x="317.12" y="415.10" width="1.4" height="1.8"/><rect x="323.37" y="415.10" width="1.4" height="1.8"/><rect x="329.62" y="415.10" width="1.4" height="1.8"/><rect x="335.87" y="415.10" width="1.4" height="1.8"/><rect x="342.12" y="415.10" width="1.4" height="1.8"/><rect x="348.38" y="415.10" width="1.4" height="1.8"/><rect x="354.63" y="415.10" width="1.4" height="1.8"/><rect x="360.88" y="415.10" width="1.4" height="1.8"/><rect x="367.13" y="415.10" width="1.4" height="1.8"/><rect x="373.38" y="415.10" width="1.4" height="1.8"/><rect x="379.64" y="415.10" width="1.4" height="1.8"/><rect x="385.89" y="415.10" width="1.4" height="1.8"/><rect x="392.14" y="415.10" width="1.4" height="1.8"/><rect x="398.39" y="415.10" width="1.4" height="1.8"/><rect x="404.64" y="415.10" width="1.4" height="1.8"/><rect x="410.90" y="415.10" width="1.4" height="1.8"/><rect x="417.15" y="415.10" width="1.4" height="1.8"/><rect x="423.40" y="415.10" width="1.4" height="1.8"/><rect x="429.65" y="415.10" width="1.4" height="1.8"/><rect x="435.90" y="415.10" width="1.4" height="1.8"/><rect x="442.16" y="415.10" width="1.4" height="1.8"/><rect x="448.41" y="415.10" width="1.4" height="1.8"/><rect x="454.66" y="415.10" width="1.4" height="1.8"/><rect x="460.91" y="415.10" width="1.4" height="1.8"/><rect x="467.16" y="415.10" width="1.4" height="1.8"/><rect x="473.42" y="415.10" width="1.4" height="1.8"/><rect x="479.67" y="415.10" width="1.4" height="1.8"/><rect x="485.92" y="415.10" width="1.4" height="1.8"/><rect x="492.17" y="415.10" width="1.4" height="1.8"/><rect x="498.42" y="415.10" width="1.4" height="1.8"/><rect x="504.68" y="415.10" width="1.4" height="1.8"/><rect x="510.93" y="415.10" width="1.4" height="1.8"/><rect x="517.18" y="415.10" width="1.4" height="1.8"/><rect x="523.43" y="415.10" width="1.4" height="1.8"/><rect x="529.68" y="415.10" width="1.4" height="1.8"/><rect x="535.94" y="415.10" width="1.4" height="1.8"/><rect x="542.19" y="415.10" width="1.4" height="1.8"/><rect x="548.44" y="415.10" width="1.4" height="1.8"/><rect x="554.69" y="415.10" width="1.4" height="1.8"/><rect x="560.94" y="415.10" width="1.4" height="1.8"/><rect x="567.20" y="415.10" width="1.4" height="1.8"/><rect x="573.45" y="415.10" width="1.4" height="1.8"/><rect x="579.70" y="415.10" width="1.4" height="1.8"/><rect x="585.95" y="415.10" width="1.4" height="1.8"/><rect x="592.20" y="415.10" width="1.4" height="1.8"/><rect x="598.46" y="415.10" width="1.4" height="1.8"/><rect x="604.71" y="415.10" width="1.4" height="1.8"/><rect x="610.96" y="415.10" width="1.4" height="1.8"/><rect x="617.21" y="415.10" width="1.4" height="1.8"/><rect x="623.46" y="415.10" width="1.4" height="1.8"/><rect x="629.72" y="415.10" width="1.4" height="1.8"/><rect x="635.97" y="415.10" width="1.4" height="1.8"/><rect x="642.22" y="415.10" width="1.4" height="1.8"/><rect x="648.47" y="415.10" width="1.4" height="1.8"/><rect x="654.72" y="415.10" width="1.4" height="1.8"/><rect x="660.98" y="415.10" width="1.4" height="1.8"/><rect x="667.23" y="415.10" width="1.4" height="1.8"/><rect x="673.48" y="415.10" width="1.4" height="1.8"/><rect x="679.73" y="415.10" width="1.4" height="1.8"/><rect x="685.98" y="415.10" width="1.4" height="1.8"/><rect x="692.24" y="415.10" width="1.4" height="1.8"/><rect x="698.49" y="415.10" width="1.4" height="1.8"/><rect x="704.74" y="415.10" width="1.4" height="1.8"/><rect x="710.99" y="415.10" width="1.4" height="1.8"/><rect x="717.24" y="415.10" width="1.4" height="1.8"/><rect x="723.50" y="415.10" width="1.4" height="1.8"/><rect x="729.75" y="415.10" width="1.4" height="1.8"/><rect x="736.00" y="415.10" width="1.4" height="1.8"/><circle cx="742.9" cy="416.00" r="1.1" fill="#222"/></g>
<g fill="#505050"><circle cx="105.2" cy="366.80" r="0.9" fill="#999"/><rect x="109.85" y="366.25" width="1.1" height="1.1"/><rect x="114.57" y="366.25" width="1.1" height="1.1"/><rect x="119.28" y="366.25" width="1.1" height="1.1"/><rect x="124.00" y="366.25" width="1.1" height="1.1"/><rect x="128.71" y="366.25" width="1.1" height="1.1"/><rect x="133.42" y="366.25" width="1.1" height="1.1"/><rect x="138.14" y="366.25" width="1.1" height="1.1"/><rect x="142.85" y="366.25" width="1.1" height="1.1"/><rect x="147.57" y="366.25" width="1.1" height="1.1"/><rect x="152.28" y="366.25" width="1.1" height="1.1"/><rect x="157.00" y="366.25" width="1.1" height="1.1"/><rect x="161.71" y="366.25" width="1.1" height="1.1"/><rect x="166.43" y="366.25" width="1.1" height="1.1"/><rect x="171.14" y="366.25" width="1.1" height="1.1"/><rect x="175.86" y="366.25" width="1.1" height="1.1"/><rect x="180.57" y="366.25" width="1.1" height="1.1"/><rect x="185.29" y="366.25" width="1.1" height="1.1"/><rect x="190.00" y="366.25" width="1.1" height="1.1"/><rect x="194.72" y="366.25" width="1.1" height="1.1"/><rect x="199.44" y="366.25" width="1.1" height="1.1"/><rect x="204.15" y="366.25" width="1.1" height="1.1"/><rect x="208.87" y="366.25" width="1.1" height="1.1"/><rect x="213.58" y="366.25" width="1.1" height="1.1"/><rect x="218.29" y="366.25" width="1.1" height="1.1"/><rect x="223.01" y="366.25" width="1.1" height="1.1"/><rect x="227.72" y="366.25" width="1.1" height="1.1"/><rect x="232.44" y="366.25" width="1.1" height="1.1"/><rect x="237.15" y="366.25" width="1.1" height="1.1"/><rect x="241.87" y="366.25" width="1.1" height="1.1"/><rect x="246.58" y="366.25" width="1.1" height="1.1"/><rect x="251.30" y="366.25" width="1.1" height="1.1"/><rect x="256.01" y="366.25" width="1.1" height="1.1"/><rect x="260.73" y="366.25" width="1.1" height="1.1"/><rect x="265.44" y="366.25" width="1.1" height="1.1"/><rect x="270.16" y="366.25" width="1.1" height="1.1"/><rect x="274.88" y="366.25" width="1.1" height="1.1"/><rect x="279.59" y="366.25" width="1.1" height="1.1"/><rect x="284.31" y="366.25" width="1.1" height="1.1"/><rect x="289.02" y="366.25" width="1.1" height="1.1"/><rect x="293.73" y="366.25" width="1.1" height="1.1"/><rect x="298.45" y="366.25" width="1.1" height="1.1"/><rect x="303.17" y="366.25" width="1.1" height="1.1"/><rect x="307.88" y="366.25" width="1.1" height="1.1"/><rect x="312.59" y="366.25" width="1.1" height="1.1"/><rect x="317.31" y="366.25" width="1.1" height="1.1"/><rect x="322.02" y="366.25" width="1.1" height="1.1"/><rect x="326.74" y="366.25" width="1.1" height="1.1"/><rect x="331.45" y="366.25" width="1.1" height="1.1"/><rect x="336.17" y="366.25" width="1.1" height="1.1"/><rect x="340.88" y="366.25" width="1.1" height="1.1"/><rect x="345.60" y="366.25" width="1.1" height="1.1"/><rect x="350.31" y="366.25" width="1.1" height="1.1"/><rect x="355.03" y="366.25" width="1.1" height="1.1"/><rect x="359.74" y="366.25" width="1.1" height="1.1"/><rect x="364.46" y="366.25" width="1.1" height="1.1"/><rect x="369.18" y="366.25" width="1.1" height="1.1"/><rect x="373.89" y="366.25" width="1.1" height="1.1"/><rect x="378.60" y="366.25" width="1.1" height="1.1"/><rect x="383.32" y="366.25" width="1.1" height="1.1"/><rect x="388.04" y="366.25" width="1.1" height="1.1"/><rect x="392.75" y="366.25" width="1.1" height="1.1"/><rect x="397.46" y="366.25" width="1.1" height="1.1"/><rect x="402.18" y="366.25" width="1.1" height="1.1"/><rect x="406.90" y="366.25" width="1.1" height="1.1"/><rect x="411.61" y="366.25" width="1.1" height="1.1"/><rect x="416.32" y="366.25" width="1.1" height="1.1"/><rect x="421.04" y="366.25" width="1.1" height="1.1"/><rect x="425.75" y="366.25" width="1.1" height="1.1"/><rect x="430.47" y="366.25" width="1.1" height="1.1"/><rect x="435.19" y="366.25" width="1.1" height="1.1"/><rect x="439.90" y="366.25" width="1.1" height="1.1"/><rect x="444.61" y="366.25" width="1.1" height="1.1"/><rect x="449.33" y="366.25" width="1.1" height="1.1"/><rect x="454.05" y="366.25" width="1.1" height="1.1"/><rect x="458.76" y="366.25" width="1.1" height="1.1"/><rect x="463.47" y="366.25" width="1.1" height="1.1"/><rect x="468.19" y="366.25" width="1.1" height="1.1"/><rect x="472.91" y="366.25" width="1.1" height="1.1"/><rect x="477.62" y="366.25" width="1.1" height="1.1"/><rect x="482.33" y="366.25" width="1.1" height="1.1"/><rect x="487.05" y="366.25" width="1.1" height="1.1"/><rect x="491.76" y="366.25" width="1.1" height="1.1"/><rect x="496.48" y="366.25" width="1.1" height="1.1"/><rect x="501.19" y="366.25" width="1.1" height="1.1"/><rect x="505.91" y="366.25" width="1.1" height="1.1"/><rect x="510.62" y="366.25" width="1.1" height="1.1"/><rect x="515.34" y="366.25" width="1.1" height="1.1"/><rect x="520.06" y="366.25" width="1.1" height="1.1"/><rect x="524.77" y="366.25" width="1.1" height="1.1"/><rect x="529.49" y="366.25" width="1.1" height="1.1"/><rect x="534.20" y="366.25" width="1.1" height="1.1"/><rect x="538.92" y="366.25" width="1.1" height="1.1"/><rect x="543.63" y="366.25" width="1.1" height="1.1"/><rect x="548.35" y="366.25" width="1.1" height="1.1"/><rect x="553.06" y="366.25" width="1.1" height="1.1"/><rect x="557.78" y="366.25" width="1.1" height="1.1"/><rect x="562.49" y="366.25" width="1.1" height="1.1"/><rect x="567.21" y="366.25" width="1.1" height="1.1"/><rect x="571.92" y="366.25" width="1.1" height="1.1"/><rect x="576.63" y="366.25" width="1.1" height="1.1"/><rect x="581.35" y="366.25" width="1.1" height="1.1"/><rect x="586.07" y="366.25" width="1.1" height="1.1"/><rect x="590.78" y="366.25" width="1.1" height="1.1"/><rect x="595.50" y="366.25" width="1.1" height="1.1"/><rect x="600.21" y="366.25" width="1.1" height="1.1"/><rect x="604.93" y="366.25" width="1.1" height="1.1"/><rect x="609.64" y="366.25" width="1.1" height="1.1"/><rect x="614.36" y="366.25" width="1.1" height="1.1"/><rect x="619.07" y="366.25" width="1.1" height="1.1"/><rect x="623.78" y="366.25" width="1.1" height="1.1"/><rect x="628.50" y="366.25" width="1.1" height="1.1"/><rect x="633.22" y="366.25" width="1.1" height="1.1"/><rect x="637.93" y="366.25" width="1.1" height="1.1"/><rect x="642.64" y="366.25" width="1.1" height="1.1"/><rect x="647.36" y="366.25" width="1.1" height="1.1"/><rect x="652.08" y="366.25" width="1.1" height="1.1"/><rect x="656.79" y="366.25" width="1.1" height="1.1"/><rect x="661.50" y="366.25" width="1.1" height="1.1"/><rect x="666.22" y="366.25" width="1.1" height="1.1"/><rect x="670.94" y="366.25" width="1.1" height="1.1"/><rect x="675.65" y="366.25" width="1.1" height="1.1"/><rect x="680.37" y="366.25" width="1.1" height="1.1"/><rect x="685.08" y="366.25" width="1.1" height="1.1"/><rect x="689.79" y="366.25" width="1.1" height="1.1"/><rect x="694.51" y="366.25" width="1.1" height="1.1"/><rect x="699.23" y="366.25" width="1.1" height="1.1"/><rect x="703.94" y="366.25" width="1.1" height="1.1"/><rect x="708.65" y="366.25" width="1.1" height="1.1"/><rect x="713.37" y="366.25" width="1.1" height="1.1"/><rect x="718.09" y="366.25" width="1.1" height="1.1"/><rect x="722.80" y="366.25" width="1.1" height="1.1"/><rect x="727.51" y="366.25" width="1.1" height="1.1"/><rect x="732.23" y="366.25" width="1.1" height="1.1"/><rect x="736.95" y="366.25" width="1.1" height="1.1"/><circle cx="742.8" cy="366.80" r="1.0" fill="#777"/></g>
<g fill="#525252"><circle cx="105.4" cy="317.60" r="1.1" fill="#222"/><rect x="110.80" y="316.70" width="1.4" height="1.8"/><rect x="117.05" y="316.70" width="1.4" height="1.8"/><rect x="123.30" y="316.70" width="1.4" height="1.8"/><rect x="129.56" y="316.70" width="1.4" height="1.8"/><rect x="135.81" y="316.70" width="1.4" height="1.8"/><rect x="142.06" y="316.70" width="1.4" height="1.8"/><rect x="148.31" y="316.70" width="1.4" height="1.8"/><rect x="154.56" y="316.70" width="1.4" height="1.8"/><rect x="160.82" y="316.70" width="1.4" height="1.8"/><rect x="167.07" y="316.70" width="1.4" height="1.8"/><rect x="173.32" y="316.70" width="1.4" height="1.8"/><rect x="179.57" y="316.70" width="1.4" height="1.8"/><rect x="185.82" y="316.70" width="1.4" height="1.8"/><rect x="192.08" y="316.70" width="1.4" height="1.8"/><rect x="198.33" y="316.70" width="1.4" height="1.8"/><rect x="204.58" y="316.70" width="1.4" height="1.8"/><rect x="210.83" y="316.70" width="1.4" height="1.8"/><rect x="217.08" y="316.70" width="1.4" height="1.8"/><rect x="223.34" y="316.70" width="1.4" height="1.8"/><rect x="229.59" y="316.70" width="1.4" height="1.8"/><rect x="235.84" y="316.70" width="1.4" height="1.8"/><rect x="242.09" y="316.70" width="1.4" height="1.8"/><rect x="248.34" y="316.70" width="1.4" height="1.8"/><rect x="254.60" y="316.70" width="1.4" height="1.8"/><rect x="260.85" y="316.70" width="1.4" height="1.8"/><rect x="267.10" y="316.70" width="1.4" height="1.8"/><rect x="273.35" y="316.70" width="1.4" height="1.8"/><rect x="279.60" y="316.70" width="1.4" height="1.8"/><rect x="285.86" y="316.70" width="1.4" height="1.8"/><rect x="292.11" y="316.70" width="1.4" height="1.8"/><rect x="298.36" y="316.70" width="1.4" height="1.8"/><rect x="304.61" y="316.70" width="1.4" height="1.8"/><rect x="310.86" y="316.70" width="1.4" height="1.8"/><rect x="317.12" y="316.70" width="1.4" height="1.8"/><rect x="323.37" y="316.70" width="1.4" height="1.8"/><rect x="329.62" y="316.70" width="1.4" height="1.8"/><rect x="335.87" y="316.70" width="1.4" height="1.8"/><rect x="342.12" y="316.70" width="1.4" height="1.8"/><rect x="348.38" y="316.70" width="1.4" height="1.8"/><rect x="354.63" y="316.70" width="1.4" height="1.8"/><rect x="360.88" y="316.70" width="1.4" height="1.8"/><rect x="367.13" y="316.70" width="1.4" height="1.8"/><rect x="373.38" y="316.70" width="1.4" height="1.8"/><rect x="379.64" y="316.70" width="1.4" height="1.8"/><rect x="385.89" y="316.70" width="1.4" height="1.8"/><rect x="392.14" y="316.70" width="1.4" height="1.8"/><rect x="398.39" y="316.70" width="1.4" height="1.8"/><rect x="404.64" y="316.70" width="1.4" height="1.8"/><rect x="410.90" y="316.70" width="1.4" height="1.8"/><rect x="417.15" y="316.70" width="1.4" height="1.8"/><rect x="423.40" y="316.70" width="1.4" height="1.8"/><rect x="429.65" y="316.70" width="1.4" height="1.8"/><rect x="435.90" y="316.70" width="1.4" height="1.8"/><rect x="442.16" y="316.70" width="1.4" height="1.8"/><rect x="448.41" y="316.70" width="1.4" height="1.8"/><rect x="454.66" y="316.70" width="1.4" height="1.8"/><rect x="460.91" y="316.70" width="1.4" height="1.8"/><rect x="467.16" y="316.70" width="1.4" height="1.8"/><rect x="473.42" y="316.70" width="1.4" height="1.8"/><rect x="479.67" y="316.70" width="1.4" height="1.8"/><rect x="485.92" y="316.70" width="1.4" height="1.8"/><rect x="492.17" y="316.70" width="1.4" height="1.8"/><rect x="498.42" y="316.70" width="1.4" height="1.8"/><rect x="504.68" y="316.70" width="1.4" height="1.8"/><rect x="510.93" y="316.70" width="1.4" height="1.8"/><rect x="517.18" y="316.70" width="1.4" height="1.8"/><rect x="523.43" y="316.70" width="1.4" height="1.8"/><rect x="529.68" y="316.70" width="1.4" height="1.8"/><rect x="535.94" y="316.70" width="1.4" height="1.8"/><rect x="542.19" y="316.70" width="1.4" height="1.8"/><rect x="548.44" y="316.70" width="1.4" height="1.8"/><rect x="554.69" y="316.70" width="1.4" height="1.8"/><rect x="560.94" y="316.70" width="1.4" height="1.8"/><rect x="567.20" y="316.70" width="1.4" height="1.8"/><rect x="573.45" y="316.70" width="1.4" height="1.8"/><rect x="579.70" y="316.70" width="1.4" height="1.8"/><rect x="585.95" y="316.70" width="1.4" height="1.8"/><rect x="592.20" y="316.70" width="1.4" height="1.8"/><rect x="598.46" y="316.70" width="1.4" height="1.8"/><rect x="604.71" y="316.70" width="1.4" height="1.8"/><rect x="610.96" y="316.70" width="1.4" height="1.8"/><rect x="617.21" y="316.70" width="1.4" height="1.8"/><rect x="623.46" y="316.70" width="1.4" height="1.8"/><rect x="629.72" y="316.70" width="1.4" height="1.8"/><rect x="635.97" y="316.70" width="1.4" height="1.8"/><rect x="642.22" y="316.70" width="1.4" height="1.8"/><rect x="648.47" y="316.70" width="1.4" height="1.8"/><rect x="654.72" y="316.70" width="1.4" height="1.8"/><rect x="660.98" y="316.70" width="1.4" height="1.8"/><rect x="667.23" y="316.70" width="1.4" height="1.8"/><rect x="673.48" y="316.70" width="1.4" height="1.8"/><rect x="679.73" y="316.70" width="1.4" height="1.8"/><rect x="685.98" y="316.70" width="1.4" height="1.8"/><rect x="692.24" y="316.70" width="1.4" height="1.8"/><rect x="698.49" y="316.70" width="1.4" height="1.8"/><rect x="704.74" y="316.70" width="1.4" height="1.8"/><rect x="710.99" y="316.70" width="1.4" height="1.8"/><rect x="717.24" y="316.70" width="1.4" height="1.8"/><rect x="723.50" y="316.70" width="1.4" height="1.8"/><rect x="729.75" y="316.70" width="1.4" height="1.8"/><rect x="736.00" y="316.70" width="1.4" height="1.8"/><circle cx="742.9" cy="317.60" r="1.1" fill="#222"/></g>
<g fill="#505050"><circle cx="105.2" cy="268.40" r="0.9" fill="#999"/><rect x="109.85" y="267.85" width="1.1" height="1.1"/><rect x="114.57" y="267.85" width="1.1" height="1.1"/><rect x="119.28" y="267.85" width="1.1" height="1.1"/><rect x="124.00" y="267.85" width="1.1" height="1.1"/><rect x="128.71" y="267.85" width="1.1" height="1.1"/><rect x="133.42" y="267.85" width="1.1" height="1.1"/><rect x="138.14" y="267.85" width="1.1" height="1.1"/><rect x="142.85" y="267.85" width="1.1" height="1.1"/><rect x="147.57" y="267.85" width="1.1" height="1.1"/><rect x="152.28" y="267.85" width="1.1" height="1.1"/><rect x="157.00" y="267.85" width="1.1" height="1.1"/><rect x="161.71" y="267.85" width="1.1" height="1.1"/><rect x="166.43" y="267.85" width="1.1" height="1.1"/><rect x="171.14" y="267.85" width="1.1" height="1.1"/><rect x="175.86" y="267.85" width="1.1" height="1.1"/><rect x="180.57" y="267.85" width="1.1" height="1.1"/><rect x="185.29" y="267.85" width="1.1" height="1.1"/><rect x="190.00" y="267.85" width="1.1" height="1.1"/><rect x="194.72" y="267.85" width="1.1" height="1.1"/><rect x="199.44" y="267.85" width="1.1" height="1.1"/><rect x="204.15" y="267.85" width="1.1" height="1.1"/><rect x="208.87" y="267.85" width="1.1" height="1.1"/><rect x="213.58" y="267.85" width="1.1" height="1.1"/><rect x="218.29" y="267.85" width="1.1" height="1.1"/><rect x="223.01" y="267.85" width="1.1" height="1.1"/><rect x="227.72" y="267.85" width="1.1" height="1.1"/><rect x="232.44" y="267.85" width="1.1" height="1.1"/><rect x="237.15" y="267.85" width="1.1" height="1.1"/><rect x="241.87" y="267.85" width="1.1" height="1.1"/><rect x="246.58" y="267.85" width="1.1" height="1.1"/><rect x="251.30" y="267.85" width="1.1" height="1.1"/><rect x="256.01" y="267.85" width="1.1" height="1.1"/><rect x="260.73" y="267.85" width="1.1" height="1.1"/><rect x="265.44" y="267.85" width="1.1" height="1.1"/><rect x="270.16" y="267.85" width="1.1" height="1.1"/><rect x="274.88" y="267.85" width="1.1" height="1.1"/><rect x="279.59" y="267.85" width="1.1" height="1.1"/><rect x="284.31" y="267.85" width="1.1" height="1.1"/><rect x="289.02" y="267.85" width="1.1" height="1.1"/><rect x="293.73" y="267.85" width="1.1" height="1.1"/><rect x="298.45" y="267.85" width="1.1" height="1.1"/><rect x="303.17" y="267.85" width="1.1" height="1.1"/><rect x="307.88" y="267.85" width="1.1" height="1.1"/><rect x="312.59" y="267.85" width="1.1" height="1.1"/><rect x="317.31" y="267.85" width="1.1" height="1.1"/><rect x="322.02" y="267.85" width="1.1" height="1.1"/><rect x="326.74" y="267.85" width="1.1" height="1.1"/><rect x="331.45" y="267.85" width="1.1" height="1.1"/><rect x="336.17" y="267.85" width="1.1" height="1.1"/><rect x="340.88" y="267.85" width="1.1" height="1.1"/><rect x="345.60" y="267.85" width="1.1" height="1.1"/><rect x="350.31" y="267.85" width="1.1" height="1.1"/><rect x="355.03" y="267.85" width="1.1" height="1.1"/><rect x="359.74" y="267.85" width="1.1" height="1.1"/><rect x="364.46" y="267.85" width="1.1" height="1.1"/><rect x="369.18" y="267.85" width="1.1" height="1.1"/><rect x="373.89" y="267.85" width="1.1" height="1.1"/><rect x="378.60" y="267.85" width="1.1" height="1.1"/><rect x="383.32" y="267.85" width="1.1" height="1.1"/><rect x="388.04" y="267.85" width="1.1" height="1.1"/><rect x="392.75" y="267.85" width="1.1" height="1.1"/><rect x="397.46" y="267.85" width="1.1" height="1.1"/><rect x="402.18" y="267.85" width="1.1" height="1.1"/><rect x="406.90" y="267.85" width="1.1" height="1.1"/><rect x="411.61" y="267.85" width="1.1" height="1.1"/><rect x="416.32" y="267.85" width="1.1" height="1.1"/><rect x="421.04" y="267.85" width="1.1" height="1.1"/><rect x="425.75" y="267.85" width="1.1" height="1.1"/><rect x="430.47" y="267.85" width="1.1" height="1.1"/><rect x="435.19" y="267.85" width="1.1" height="1.1"/><rect x="439.90" y="267.85" width="1.1" height="1.1"/><rect x="444.61" y="267.85" width="1.1" height="1.1"/><rect x="449.33" y="267.85" width="1.1" height="1.1"/><rect x="454.05" y="267.85" width="1.1" height="1.1"/><rect x="458.76" y="267.85" width="1.1" height="1.1"/><rect x="463.47" y="267.85" width="1.1" height="1.1"/><rect x="468.19" y="267.85" width="1.1" height="1.1"/><rect x="472.91" y="267.85" width="1.1" height="1.1"/><rect x="477.62" y="267.85" width="1.1" height="1.1"/><rect x="482.33" y="267.85" width="1.1" height="1.1"/><rect x="487.05" y="267.85" width="1.1" height="1.1"/><rect x="491.76" y="267.85" width="1.1" height="1.1"/><rect x="496.48" y="267.85" width="1.1" height="1.1"/><rect x="501.19" y="267.85" width="1.1" height="1.1"/><rect x="505.91" y="267.85" width="1.1" height="1.1"/><rect x="510.62" y="267.85" width="1.1" height="1.1"/><rect x="515.34" y="267.85" width="1.1" height="1.1"/><rect x="520.06" y="267.85" width="1.1" height="1.1"/><rect x="524.77" y="267.85" width="1.1" height="1.1"/><rect x="529.49" y="267.85" width="1.1" height="1.1"/><rect x="534.20" y="267.85" width="1.1" height="1.1"/><rect x="538.92" y="267.85" width="1.1" height="1.1"/><rect x="543.63" y="267.85" width="1.1" height="1.1"/><rect x="548.35" y="267.85" width="1.1" height="1.1"/><rect x="553.06" y="267.85" width="1.1" height="1.1"/><rect x="557.78" y="267.85" width="1.1" height="1.1"/><rect x="562.49" y="267.85" width="1.1" height="1.1"/><rect x="567.21" y="267.85" width="1.1" height="1.1"/><rect x="571.92" y="267.85" width="1.1" height="1.1"/><rect x="576.63" y="267.85" width="1.1" height="1.1"/><rect x="581.35" y="267.85" width="1.1" height="1.1"/><rect x="586.07" y="267.85" width="1.1" height="1.1"/><rect x="590.78" y="267.85" width="1.1" height="1.1"/><rect x="595.50" y="267.85" width="1.1" height="1.1"/><rect x="600.21" y="267.85" width="1.1" height="1.1"/><rect x="604.93" y="267.85" width="1.1" height="1.1"/><rect x="609.64" y="267.85" width="1.1" height="1.1"/><rect x="614.36" y="267.85" width="1.1" height="1.1"/><rect x="619.07" y="267.85" width="1.1" height="1.1"/><rect x="623.78" y="267.85" width="1.1" height="1.1"/><rect x="628.50" y="267.85" width="1.1" height="1.1"/><rect x="633.22" y="267.85" width="1.1" height="1.1"/><rect x="637.93" y="267.85" width="1.1" height="1.1"/><rect x="642.64" y="267.85" width="1.1" height="1.1"/><rect x="647.36" y="267.85" width="1.1" height="1.1"/><rect x="652.08" y="267.85" width="1.1" height="1.1"/><rect x="656.79" y="267.85" width="1.1" height="1.1"/><rect x="661.50" y="267.85" width="1.1" height="1.1"/><rect x="666.22" y="267.85" width="1.1" height="1.1"/><rect x="670.94" y="267.85" width="1.1" height="1.1"/><rect x="675.65" y="267.85" width="1.1" height="1.1"/><rect x="680.37" y="267.85" width="1.1" height="1.1"/><rect x="685.08" y="267.85" width="1.1" height="1.1"/><rect x="689.79" y="267.85" width="1.1" height="1.1"/><rect x="694.51" y="267.85" width="1.1" height="1.1"/><rect x="699.23" y="267.85" width="1.1" height="1.1"/><rect x="703.94" y="267.85" width="1.1" height="1.1"/><rect x="708.65" y="267.85" width="1.1" height="1.1"/><rect x="713.37" y="267.85" width="1.1" height="1.1"/><rect x="718.09" y="267.85" width="1.1" height="1.1"/><rect x="722.80" y="267.85" width="1.1" height="1.1"/><rect x="727.51" y="267.85" width="1.1" height="1.1"/><rect x="732.23" y="267.85" width="1.1" height="1.1"/><rect x="736.95" y="267.85" width="1.1" height="1.1"/><circle cx="742.8" cy="268.40" r="1.0" fill="#777"/></g>
<g fill="#525252"><circle cx="105.4" cy="219.20" r="1.1" fill="#222"/><rect x="110.80" y="218.30" width="1.4" height="1.8"/><rect x="117.05" y="218.30" width="1.4" height="1.8"/><rect x="123.30" y="218.30" width="1.4" height="1.8"/><rect x="129.56" y="218.30" width="1.4" height="1.8"/><rect x="135.81" y="218.30" width="1.4" height="1.8"/><rect x="142.06" y="218.30" width="1.4" height="1.8"/><rect x="148.31" y="218.30" width="1.4" height="1.8"/><rect x="154.56" y="218.30" width="1.4" height="1.8"/><rect x="160.82" y="218.30" width="1.4" height="1.8"/><rect x="167.07" y="218.30" width="1.4" height="1.8"/><rect x="173.32" y="218.30" width="1.4" height="1.8"/><rect x="179.57" y="218.30" width="1.4" height="1.8"/><rect x="185.82" y="218.30" width="1.4" height="1.8"/><rect x="192.08" y="218.30" width="1.4" height="1.8"/><rect x="198.33" y="218.30" width="1.4" height="1.8"/><rect x="204.58" y="218.30" width="1.4" height="1.8"/><rect x="210.83" y="218.30" width="1.4" height="1.8"/><rect x="217.08" y="218.30" width="1.4" height="1.8"/><rect x="223.34" y="218.30" width="1.4" height="1.8"/><rect x="229.59" y="218.30" width="1.4" height="1.8"/><rect x="235.84" y="218.30" width="1.4" height="1.8"/><rect x="242.09" y="218.30" width="1.4" height="1.8"/><rect x="248.34" y="218.30" width="1.4" height="1.8"/><rect x="254.60" y="218.30" width="1.4" height="1.8"/><rect x="260.85" y="218.30" width="1.4" height="1.8"/><rect x="267.10" y="218.30" width="1.4" height="1.8"/><rect x="273.35" y="218.30" width="1.4" height="1.8"/><rect x="279.60" y="218.30" width="1.4" height="1.8"/><rect x="285.86" y="218.30" width="1.4" height="1.8"/><rect x="292.11" y="218.30" width="1.4" height="1.8"/><rect x="298.36" y="218.30" width="1.4" height="1.8"/><rect x="304.61" y="218.30" width="1.4" height="1.8"/><rect x="310.86" y="218.30" width="1.4" height="1.8"/><rect x="317.12" y="218.30" width="1.4" height="1.8"/><rect x="323.37" y="218.30" width="1.4" height="1.8"/><rect x="329.62" y="218.30" width="1.4" height="1.8"/><rect x="335.87" y="218.30" width="1.4" height="1.8"/><rect x="342.12" y="218.30" width="1.4" height="1.8"/><rect x="348.38" y="218.30" width="1.4" height="1.8"/><rect x="354.63" y="218.30" width="1.4" height="1.8"/><rect x="360.88" y="218.30" width="1.4" height="1.8"/><rect x="367.13" y="218.30" width="1.4" height="1.8"/><rect x="373.38" y="218.30" width="1.4" height="1.8"/><rect x="379.64" y="218.30" width="1.4" height="1.8"/><rect x="385.89" y="218.30" width="1.4" height="1.8"/><rect x="392.14" y="218.30" width="1.4" height="1.8"/><rect x="398.39" y="218.30" width="1.4" height="1.8"/><rect x="404.64" y="218.30" width="1.4" height="1.8"/><rect x="410.90" y="218.30" width="1.4" height="1.8"/><rect x="417.15" y="218.30" width="1.4" height="1.8"/><rect x="423.40" y="218.30" width="1.4" height="1.8"/><rect x="429.65" y="218.30" width="1.4" height="1.8"/><rect x="435.90" y="218.30" width="1.4" height="1.8"/><rect x="442.16" y="218.30" width="1.4" height="1.8"/><rect x="448.41" y="218.30" width="1.4" height="1.8"/><rect x="454.66" y="218.30" width="1.4" height="1.8"/><rect x="460.91" y="218.30" width="1.4" height="1.8"/><rect x="467.16" y="218.30" width="1.4" height="1.8"/><rect x="473.42" y="218.30" width="1.4" height="1.8"/><rect x="479.67" y="218.30" width="1.4" height="1.8"/><rect x="485.92" y="218.30" width="1.4" height="1.8"/><rect x="492.17" y="218.30" width="1.4" height="1.8"/><rect x="498.42" y="218.30" width="1.4" height="1.8"/><rect x="504.68" y="218.30" width="1.4" height="1.8"/><rect x="510.93" y="218.30" width="1.4" height="1.8"/><rect x="517.18" y="218.30" width="1.4" height="1.8"/><rect x="523.43" y="218.30" width="1.4" height="1.8"/><rect x="529.68" y="218.30" width="1.4" height="1.8"/><rect x="535.94" y="218.30" width="1.4" height="1.8"/><rect x="542.19" y="218.30" width="1.4" height="1.8"/><rect x="548.44" y="218.30" width="1.4" height="1.8"/><rect x="554.69" y="218.30" width="1.4" height="1.8"/><rect x="560.94" y="218.30" width="1.4" height="1.8"/><rect x="567.20" y="218.30" width="1.4" height="1.8"/><rect x="573.45" y="218.30" width="1.4" height="1.8"/><rect x="579.70" y="218.30" width="1.4" height="1.8"/><rect x="585.95" y="218.30" width="1.4" height="1.8"/><rect x="592.20" y="218.30" width="1.4" height="1.8"/><rect x="598.46" y="218.30" width="1.4" height="1.8"/><rect x="604.71" y="218.30" width="1.4" height="1.8"/><rect x="610.96" y="218.30" width="1.4" height="1.8"/><rect x="617.21" y="218.30" width="1.4" height="1.8"/><rect x="623.46" y="218.30" width="1.4" height="1.8"/><rect x="629.72" y="218.30" width="1.4" height="1.8"/><rect x="635.97" y="218.30" width="1.4" height="1.8"/><rect x="642.22" y="218.30" width="1.4" height="1.8"/><rect x="648.47" y="218.30" width="1.4" height="1.8"/><rect x="654.72" y="218.30" width="1.4" height="1.8"/><rect x="660.98" y="218.30" width="1.4" height="1.8"/><rect x="667.23" y="218.30" width="1.4" height="1.8"/><rect x="673.48" y="218.30" width="1.4" height="1.8"/><rect x="679.73" y="218.30" width="1.4" height="1.8"/><rect x="685.98" y="218.30" width="1.4" height="1.8"/><rect x="692.24" y="218.30" width="1.4" height="1.8"/><rect x="698.49" y="218.30" width="1.4" height="1.8"/><rect x="704.74" y="218.30" width="1.4" height="1.8"/><rect x="710.99" y="218.30" width="1.4" height="1.8"/><rect x="717.24" y="218.30" width="1.4" height="1.8"/><rect x="723.50" y="218.30" width="1.4" height="1.8"/><rect x="729.75" y="218.30" width="1.4" height="1.8"/><rect x="736.00" y="218.30" width="1.4" height="1.8"/><circle cx="742.9" cy="219.20" r="1.1" fill="#222"/></g>
<rect x="132.25" y="679.3" width="32.8" height="32.20" fill="#F26532"/>
<rect x="168.75" y="654.3" width="32.8" height="57.20" fill="#ADB6C3"/>
<rect x="236.95" y="631.5" width="32.8" height="80.00" fill="#F26532"/>
<rect x="273.45" y="630" width="32.8" height="81.50" fill="#ADB6C3"/>
<rect x="341.65" y="622" width="32.8" height="89.50" fill="#F26532"/>
<rect x="378.15" y="600.4" width="32.8" height="111.10" fill="#ADB6C3"/>
<rect x="446.35" y="544.9" width="32.8" height="166.60" fill="#F26532"/>
<rect x="482.85" y="547" width="32.8" height="164.50" fill="#ADB6C3"/>
<rect x="551.05" y="422.5" width="32.8" height="289.00" fill="#F26532"/>
<rect x="587.55" y="475" width="32.8" height="236.50" fill="#ADB6C3"/>
<rect x="655.75" y="382.9" width="32.8" height="328.60" fill="#F26532"/>
<rect x="692.25" y="375.6" width="32.8" height="335.90" fill="#ADB6C3"/>
<line x1="105.5" y1="711.25" x2="743" y2="711.25" stroke="#333" stroke-width="1.5"/>
<line x1="106.25" y1="711" x2="106.25" y2="731.7" stroke="#4a4a4a" stroke-width="1.5"/>
<line x1="219.20" y1="711" x2="219.20" y2="731.7" stroke="#4a4a4a" stroke-width="1.5"/>
<line x1="323.90" y1="711" x2="323.90" y2="731.7" stroke="#4a4a4a" stroke-width="1.5"/>
<line x1="428.60" y1="711" x2="428.60" y2="731.7" stroke="#4a4a4a" stroke-width="1.5"/>
<line x1="533.30" y1="711" x2="533.30" y2="731.7" stroke="#4a4a4a" stroke-width="1.5"/>
<line x1="638.00" y1="711" x2="638.00" y2="731.7" stroke="#4a4a4a" stroke-width="1.5"/>
<line x1="742.25" y1="711" x2="742.25" y2="731.7" stroke="#4a4a4a" stroke-width="1.5"/>
<text x="91.5" y="718.40" text-anchor="end" font-size="18.3" fill="#111111">0%</text>
<text x="91.5" y="620.00" text-anchor="end" font-size="18.3" fill="#111111">10%</text>
<text x="91.5" y="521.60" text-anchor="end" font-size="18.3" fill="#111111">20%</text>
<text x="91.5" y="423.20" text-anchor="end" font-size="18.3" fill="#111111">30%</text>
<text x="91.5" y="324.80" text-anchor="end" font-size="18.3" fill="#111111">40%</text>
<text x="91.5" y="226.40" text-anchor="end" font-size="18.3" fill="#111111">50%</text>
<text x="165.35" y="746.6" text-anchor="middle" font-size="17.4" fill="#111111" textLength="38.8" lengthAdjust="spacingAndGlyphs">2015</text>
<text x="270.05" y="746.6" text-anchor="middle" font-size="17.4" fill="#111111" textLength="40.7" lengthAdjust="spacingAndGlyphs">2016</text>
<text x="374.75" y="746.6" text-anchor="middle" font-size="17.4" fill="#111111" textLength="38.1" lengthAdjust="spacingAndGlyphs">2017</text>
<text x="479.45" y="746.6" text-anchor="middle" font-size="17.4" fill="#111111" textLength="40.2" lengthAdjust="spacingAndGlyphs">2018</text>
<text x="584.15" y="746.6" text-anchor="middle" font-size="17.4" fill="#111111" textLength="41.6" lengthAdjust="spacingAndGlyphs">2019</text>
<text x="688.85" y="746.6" text-anchor="middle" font-size="17.4" fill="#111111" textLength="44.1" lengthAdjust="spacingAndGlyphs">2020</text>
<rect x="135.60" y="660.50" width="24.80" height="15" fill="#fff"/>
<text x="138.50" y="673.80" font-size="16.2" font-weight="bold" fill="#1a1a1a" stroke="#1a1a1a" stroke-width="0.5" textLength="19.0" lengthAdjust="spacingAndGlyphs">13</text>
<rect x="167.30" y="635.30" width="36.00" height="15" fill="#fff"/>
<text x="170.20" y="648.60" font-size="16.2" font-weight="bold" fill="#1a1a1a" stroke="#1a1a1a" stroke-width="0.5" textLength="30.2" lengthAdjust="spacingAndGlyphs">170</text>
<rect x="654.60" y="364.40" width="35.60" height="15" fill="#fff"/>
<text x="657.50" y="377.70" font-size="16.2" font-weight="bold" fill="#1a1a1a" stroke="#1a1a1a" stroke-width="0.5" textLength="29.8" lengthAdjust="spacingAndGlyphs">132</text>
<rect x="679.50" y="282.40" width="54.70" height="15" fill="#fff"/>
<text x="682.40" y="295.70" font-size="16.2" font-weight="bold" fill="#1a1a1a" stroke="#1a1a1a" stroke-width="0.5" textLength="48.9" lengthAdjust="spacingAndGlyphs">1,002</text>
<line x1="708.8" y1="301" x2="708.8" y2="376.2" stroke="#808080" stroke-width="1.5"/>
<circle cx="708.8" cy="376.2" r="1.9" fill="#222"/>
<text transform="translate(38,614.6) rotate(-90)" x="0" y="0" font-size="17.4" fill="#111111" textLength="300.2" lengthAdjust="spacingAndGlyphs">Percentage of topic articles, 2015–20</text>
<rect x="24" y="168.2" width="14.2" height="14.6" fill="#F26532"/>
<rect x="179.9" y="168.2" width="15.1" height="14.6" fill="#ADB6C3"/>
<text x="48" y="182.8" font-size="17.4" fill="#111111" textLength="103" lengthAdjust="spacingAndGlyphs">Nature Index</text>
<text x="203.5" y="182.8" font-size="17.4" fill="#111111" textLength="94" lengthAdjust="spacingAndGlyphs">Dimensions</text>
<text id="t1" x="24.6" y="46.6" font-size="32.2" font-weight="bold" fill="#000" stroke="#000" stroke-width="0.9" lengthAdjust="spacingAndGlyphs" textLength="59.6">NANO</text>
<text id="t2" x="89.6" y="46.6" font-size="32.2" font-weight="bold" fill="#000" stroke="#000" stroke-width="0.9" lengthAdjust="spacingAndGlyphs" textLength="91.8">IMMUNO</text>
<rect x="182" y="33.8" width="6.9" height="4" fill="#000"/>
<text id="t4" x="190.1" y="46.6" font-size="32.2" font-weight="bold" fill="#000" stroke="#000" stroke-width="0.9" lengthAdjust="spacingAndGlyphs" textLength="144.3">ENGINEERING</text>
<text x="24.5" y="69.8" font-size="19" fill="#111111" textLength="700.0" lengthAdjust="spacingAndGlyphs">Nano immuno-engineering has the potential to target autoimmune conditions,</text>
<text x="24.5" y="92.6" font-size="19" fill="#111111" textLength="703.5" lengthAdjust="spacingAndGlyphs">cancer and allergies. In the Nature Index journals for the period 2015–20, there</text>
<text x="24.5" y="115.4" font-size="19" fill="#111111" textLength="707.5" lengthAdjust="spacingAndGlyphs">were 396 articles related to nanomaterial-based immunotherapy, more than for</text>
<text x="24.5" y="138.5" font-size="19" fill="#111111" textLength="551.5" lengthAdjust="spacingAndGlyphs">any other trending topic and representing a ten-fold increase.</text></svg>
</body></html>
